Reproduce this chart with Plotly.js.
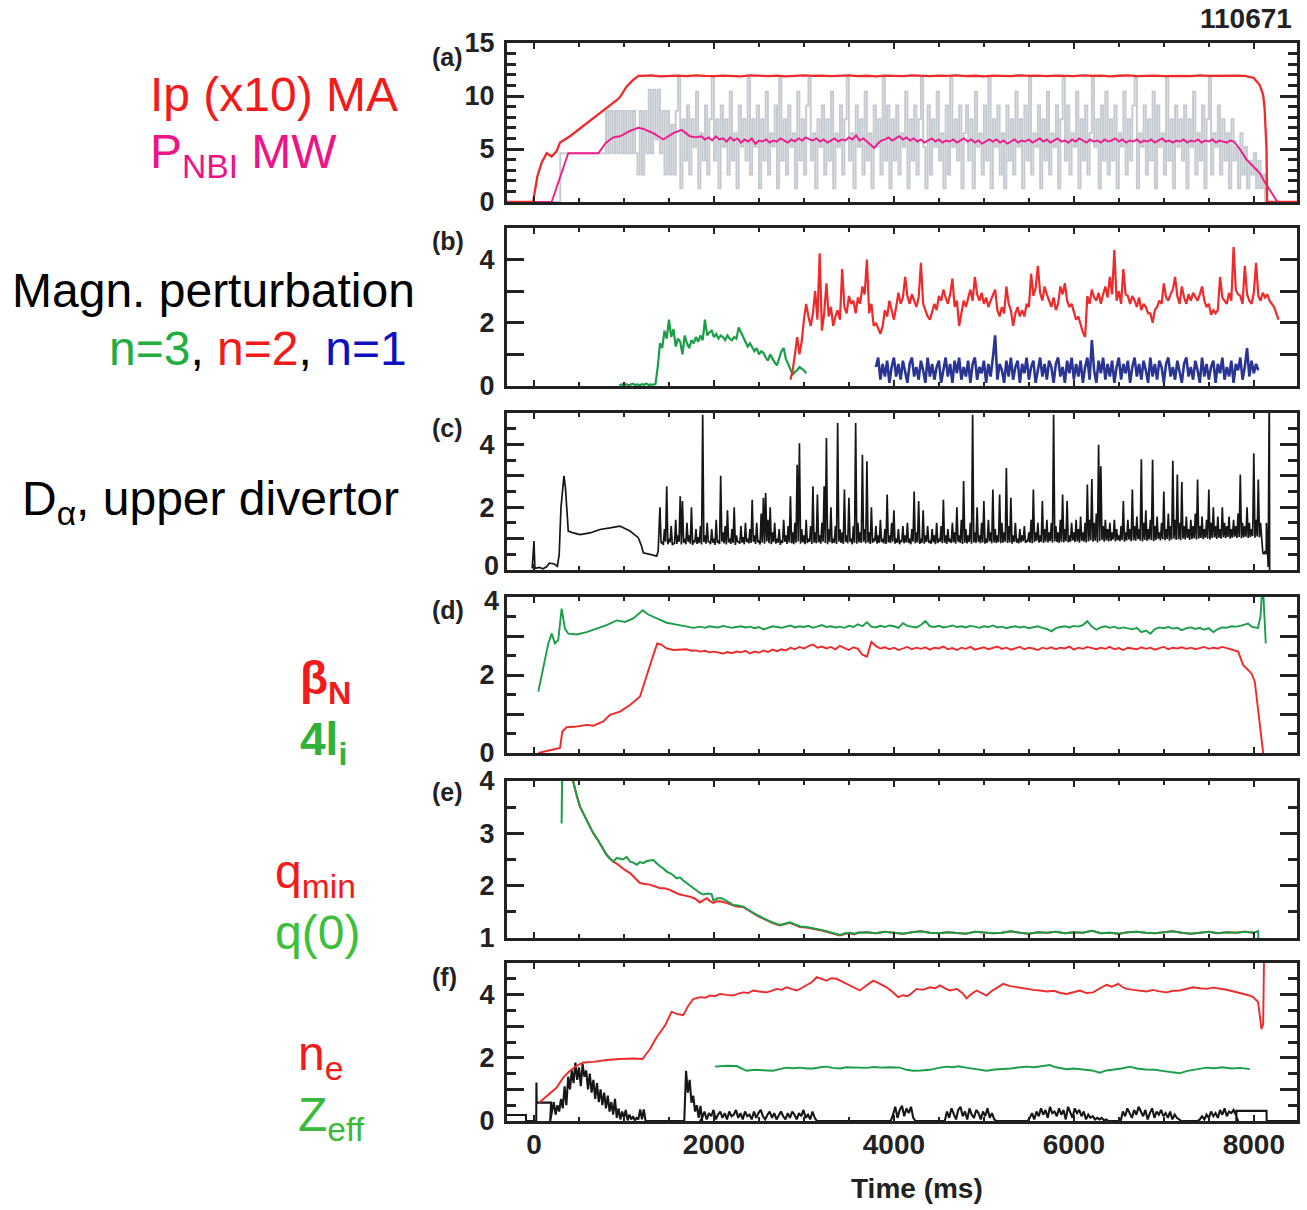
<!DOCTYPE html>
<html><head><meta charset="utf-8">
<script src="https://cdn.plot.ly/plotly-3.0.1.min.js"></script>
<style>html,body{margin:0;padding:0;background:#fff}#chart{width:1307px;height:1210px}</style>
</head><body><div id="chart"></div>
<script>
// ---------------- DATA (time in ms) ----------------
// (a) Ip (x10) MA
const ipT0 = [-300,-10,37,85,141,196,252,289,400,585,770,880,919,956,1030,1100,1159];
const ipV0 = [0,0,2.4,3.7,4.6,4.3,4.8,5.6,6.2,7.4,8.6,9.3,9.6,9.9,10.9,11.5,11.9];
const ipFlatStart = 1200, ipFlatStep = 100;
const ipFlat = [11.9,11.95,11.85,11.9,11.92,11.88,11.95,11.9,11.87,11.93,
11.9,11.86,11.94,11.9,11.88,11.92,11.85,11.9,11.95,11.89,
11.92,11.87,11.9,11.94,11.88,11.91,11.86,11.93,11.9,11.88,
11.95,11.9,11.87,11.92,11.89,11.94,11.88,11.91,11.86,11.93,
11.9,11.88,11.95,11.89,11.92,11.87,11.93,11.9,11.88,11.94,
11.89,11.92,11.86,11.91,11.95,11.88,11.9,11.93,11.87,11.92,
11.9,11.88,11.94,11.89,11.91,11.87,11.92,11.9];
const ipT1 = [7933,8000,8030,8067,8104,8120,8141,8148,8480];
const ipV1 = [11.85,11.7,11.4,11.0,10.1,8.8,5.0,0,0];

// (a) P_NBI MW (averaged)
const pnT0 = [-300,196,381,715,800,881,956,1067,1159,1215,1326,1437,1548,1641,1733,1800,1860];
const pnV0 = [0,0,4.6,4.6,5.6,6.1,6.2,6.7,7.0,6.9,6.5,5.9,6.5,6.8,6.2,6.1,6.2];
const pnStart = 1900, pnStep = 40;
const pnMid = [5.9,6.1,5.8,6.2,5.9,6.0,5.7,6.1,5.8,6.0,
5.6,5.9,5.7,6.0,5.5,5.8,5.7,5.9,5.6,5.8,
5.7,6.0,5.8,5.6,5.9,5.7,6.0,5.8,6.1,5.9,
5.8,6.0,5.7,5.9,5.6,5.8,6.0,5.7,5.9,5.8,
6.1,5.9,6.3,5.8,6.0,5.7,5.4,5.1,5.5,5.8,
5.9,6.1,5.8,6.0,6.2,5.9,6.1,5.8,6.0,5.7,
5.9,5.6,5.8,6.0,5.7,5.9,5.6,5.8,5.7,5.9,
5.6,5.8,6.0,5.7,5.9,5.6,5.8,5.5,5.7,5.9,
5.7,5.9,5.6,5.8,5.5,5.7,5.9,5.6,5.8,5.7,
5.9,5.6,5.8,6.0,5.7,5.9,5.6,5.8,6.0,5.7,
5.8,5.6,5.9,5.7,6.0,5.8,5.6,5.9,5.7,5.8,
5.6,5.9,5.7,5.8,6.0,5.7,5.9,5.6,5.8,5.7,
5.9,5.6,5.8,5.7,5.9,5.6,5.8,6.0,5.7,5.8,
5.6,5.8,5.7,5.9,5.6,5.8,5.7,5.9,5.6,5.8,
5.7,5.9,5.6,5.8,5.7,5.6,5.8];
const pnT1 = [7780,7844,7919,8000,8067,8120,8178,8252,8270,8480];
const pnV1 = [5.7,5.0,4.0,3.3,2.7,1.9,1.1,0.15,0,0];

// (a) raw beam power (grey)
const nbT0 = [-300,290,292,790];
const nbV0 = [0,0,4.6,4.6];
const nbStart = 800, nbStep = 25;
const nbRaw = [8.6,4.6,8.6,4.6,8.6,4.6,8.6,4.6,8.6,4.6,8.6,4.6,8.6,4.6,
2.6,8.6,2.6,8.6,4.6, 10.6,4.6,10.6,5.9,10.6,4.6, 8.6,2.6,8.6,2.6,7.3,2.6,8.6,
11.7,1.3,7.8,3.9,9.1,2.6,7.8,5.2,10.4,1.3,6.5,3.9,9.1,2.6,7.8,11.7,
3.9,7.8,1.3,9.1,5.2,7.8,2.6,10.4,3.9,6.5,1.3,9.1,5.2,7.8,3.9,11.7,
2.6,7.8,5.2,9.1,1.3,7.8,3.9,10.4,2.6,6.5,5.2,9.1,1.3,11.7,3.9,7.8,
2.6,9.1,5.2,6.5,1.3,10.4,3.9,7.8,2.6,9.1,11.7,3.9,6.5,1.3,7.8,5.2,
9.1,2.6,7.8,3.9,10.4,1.3,6.5,5.2,9.1,2.6,7.8,11.7,3.9,6.5,1.3,9.1,
5.2,7.8,2.6,10.4,3.9,6.5,1.3,9.1,5.2,7.8,2.6,11.7,3.9,9.1,1.3,7.8,
3.9,9.1,2.6,6.5,5.2,10.4,1.3,7.8,3.9,9.1,2.6,7.8,11.7,5.2,1.3,9.1,
2.6,7.8,5.2,10.4,3.9,6.5,1.3,9.1,2.6,11.7,5.2,7.8,3.9,9.1,1.3,6.5,
9.1,3.9,7.8,1.3,10.4,5.2,6.5,2.6,9.1,3.9,11.7,1.3,7.8,5.2,9.1,2.6,
6.5,1.3,9.1,3.9,7.8,2.6,10.4,5.2,7.8,1.3,9.1,3.9,11.7,2.6,6.5,5.2,
9.1,1.3,7.8,3.9,10.4,2.6,6.5,5.2,9.1,1.3,7.8,11.7,3.9,9.1,2.6,6.5,
5.2,10.4,1.3,7.8,3.9,9.1,2.6,6.5,11.7,5.2,7.8,1.3,9.1,3.9,10.4,2.6,
7.8,3.9,9.1,1.3,6.5,5.2,10.4,2.6,7.8,3.9,9.1,11.7,1.3,6.5,5.2,9.1,
2.6,7.8,3.9,10.4,1.3,9.1,5.2,6.5,2.6,11.7,3.9,7.8,1.3,9.1,5.2,7.8,
3.9,9.1,1.3,7.8,5.2,10.4,2.6,6.5,3.9,9.1,1.3,7.8,11.7,2.6,6.5,5.2,
9.1,2.6,7.8,3.9,6.5,1.3,7.8,3.9,5.2,1.3,6.5,2.6,5.2,1.3,3.9,2.6,
4.6,1.3,3.9,1.3,2.6,0];

// (b) magnetic perturbation n=3 (green)
const n3Start = 950, n3Step = 25;
const n3 = [0.02,0.05,0.03,0.06,0.02,0.04,0.07,0.03,0.05,0.02,0.06,0.04,0.08,0.03,0.05,0.04,0.06,
0.6,1.35,1.2,1.75,1.5,2.1,1.55,1.8,1.25,1.5,
1.4,1.0,1.6,1.35,1.2,1.45,1.35,1.55,1.4,1.6,
1.45,2.1,1.6,1.7,1.75,1.55,1.65,1.5,1.6,1.55,
1.45,1.6,1.5,1.45,1.55,1.5,1.85,1.7,1.55,1.4,
1.25,1.35,1.2,1.1,1.2,1.0,1.1,1.05,0.9,0.8,
1.0,0.85,0.75,0.65,0.9,1.1,1.2,0.85,0.7,0.55,
0.35,0.45,0.5,0.6,0.55,0.5,0.4];
// (b) n=2 (red)
const n2Start = 2850, n2Step = 25;
const n2 = [0.2,0.5,1.0,1.55,1.0,1.4,2.1,2.6,2.2,1.9,
2.3,3.0,2.1,4.2,1.75,2.3,3.25,2.2,2.5,1.9,
2.2,2.4,2.1,3.7,2.5,2.3,2.85,2.6,2.7,2.3,
2.8,2.6,3.15,2.9,4.0,2.3,2.6,1.9,2.0,1.8,
1.65,1.9,2.4,2.2,2.7,2.4,2.1,2.5,2.95,2.6,
2.8,3.45,2.85,2.6,2.9,2.7,2.5,2.8,3.9,2.6,
2.4,2.2,2.1,2.35,2.6,2.4,2.85,2.7,3.05,2.8,
2.6,2.9,3.4,2.5,2.7,1.9,2.3,2.7,2.5,2.8,
3.05,2.7,3.45,2.9,2.7,2.95,2.6,2.8,2.5,2.7,
2.9,3.05,2.4,2.2,2.5,2.3,3.15,2.6,2.4,1.9,
2.3,2.5,2.2,2.4,2.2,2.6,2.5,3.55,2.85,3.1,
3.8,2.95,2.7,3.15,2.9,2.7,2.5,2.8,2.4,2.6,
3.15,2.9,3.25,2.7,2.5,2.6,2.3,2.1,2.2,1.9,
1.7,1.55,2.85,2.6,3.05,2.8,2.7,2.95,2.6,2.9,
3.15,2.8,3.45,2.9,4.3,2.7,3.0,2.6,3.7,2.9,
2.85,2.6,2.85,2.7,2.5,2.8,2.4,2.6,2.5,2.3,
2.3,2.0,2.4,2.5,2.7,2.6,3.25,2.8,2.7,2.9,
3.05,3.45,2.85,2.6,3.15,2.8,2.6,2.9,2.7,2.95,
2.8,2.7,2.9,3.15,2.7,2.5,2.6,2.25,2.4,2.3,
2.4,3.45,2.8,2.7,2.6,2.95,2.7,4.4,3.05,2.9,
2.85,2.6,3.8,2.9,2.7,2.6,2.95,3.9,2.85,2.7,
2.95,2.8,2.9,2.7,2.6,2.5,2.3,2.1];
// (b) n=1 (blue)
const n1Start = 3800, n1Step = 25;
const n1 = [0.6,0.9,0.2,0.7,0.3,0.8,0.1,0.6,0.9,0.3,
0.7,0.2,0.8,0.4,0.1,0.7,0.9,0.3,0.6,0.2,
0.8,0.5,0.1,0.9,0.3,0.7,0.2,0.6,0.8,0.1,
0.5,0.9,0.3,0.7,0.1,0.8,0.4,0.9,0.2,0.6,
0.3,0.8,0.1,0.7,0.9,0.2,0.6,0.4,0.8,0.1,
0.7,0.3,0.9,1.6,0.2,0.7,0.5,0.1,0.8,0.3,
0.9,0.2,0.6,0.8,0.1,0.7,0.4,0.9,0.2,0.6,
0.8,0.1,0.5,0.9,0.3,0.7,0.2,0.8,0.6,0.1,
0.7,0.9,0.3,0.6,0.1,0.8,0.4,0.9,0.2,0.7,
0.3,0.8,0.1,0.6,0.9,0.2,1.45,0.5,0.1,0.8,
0.4,0.9,0.2,0.7,0.3,0.8,0.1,0.6,0.9,0.2,
0.7,0.4,0.8,0.1,0.6,0.9,0.3,0.7,0.2,0.8,
0.5,0.1,0.9,0.3,0.7,0.2,0.8,0.6,0.1,0.7,
0.9,0.3,0.6,0.2,0.8,0.4,0.1,0.7,0.9,0.3,
0.6,0.2,0.8,0.5,0.1,0.9,0.3,0.7,0.2,0.6,
0.8,0.1,0.7,0.4,0.9,0.2,0.6,0.3,0.8,0.1,
0.7,0.5,0.9,0.2,0.6,1.2,0.3,0.8,0.4,0.7,
0.5];

// (c) D-alpha upper divertor
const daT0 = [-20,0,10,60,100,140,170,220,260,280,300,333,350,365,381,437,511,622,733,844,900,956,1010,1067,1120,1159,1196,1215,1289,1340,1363,1380];
const daV0 = [0.05,0.92,0.05,0.08,0.04,0.1,0.22,0.2,0.12,0.5,2.0,3.0,2.6,1.8,1.24,1.18,1.13,1.18,1.29,1.34,1.37,1.4,1.32,1.24,1.12,1.03,0.76,0.55,0.5,0.45,0.44,0.6];
const daStart = 1400, daStep = 25;
// upper excursions (peaks) in each 25 ms bin
const daMid = [2.0,0.9,1.3,2.67,1.0,1.4,0.85,1.6,1.1,2.35,
2.2,1.0,1.5,1.1,2.0,0.95,1.3,1.05,1.4,4.94,
1.1,1.5,0.9,1.3,1.0,1.6,0.95,3.0,1.2,1.4,
1.9,1.0,1.3,2.0,1.1,0.9,1.4,1.05,1.5,1.0,
1.3,2.24,1.1,1.5,0.95,1.8,2.3,2.45,1.6,2.0,
1.2,1.5,1.0,1.3,0.95,1.6,1.1,1.4,2.35,1.2,
1.5,3.35,4.04,1.3,1.1,1.6,1.0,1.4,2.67,1.2,
2.4,1.1,1.5,2.67,4.2,1.3,2.0,1.0,1.4,4.68,
1.3,1.2,2.56,1.1,2.3,1.0,1.4,4.68,1.5,1.2,
3.67,1.3,3.46,1.2,2.0,1.0,1.4,1.1,1.6,1.0,
1.3,2.4,1.1,1.5,1.9,1.0,1.3,0.95,1.4,1.1,
1.5,1.0,1.3,2.5,1.2,2.2,1.0,1.9,1.1,1.4,
0.95,1.3,1.1,1.5,1.0,1.4,2.24,1.1,1.3,1.0,
1.5,1.2,2.0,1.1,1.6,2.83,1.3,1.1,1.5,4.94,
1.2,2.0,1.1,1.5,2.2,1.0,1.6,1.2,2.56,1.3,
1.1,2.4,1.5,1.2,3.25,1.4,2.3,1.1,1.5,1.0,
1.3,1.1,1.4,0.95,1.2,1.6,2.56,1.2,1.5,1.1,
2.2,1.3,1.6,1.2,1.5,4.94,1.4,1.2,1.6,2.4,
1.3,2.2,1.1,1.5,1.2,1.6,1.3,1.7,1.2,1.5,
2.72,1.6,2.9,1.5,1.8,3.99,3.3,1.4,1.6,1.3,
1.5,1.2,1.6,1.3,1.1,1.4,2.2,1.2,1.6,1.3,
2.56,1.4,1.7,1.3,3.53,1.5,1.9,1.3,1.6,3.51,
1.4,1.7,1.2,1.5,2.5,1.3,1.8,1.4,3.48,1.6,
3.04,1.5,2.8,1.4,1.7,1.3,1.6,1.4,1.8,2.88,
1.4,1.7,1.3,1.6,2.56,1.5,2.0,1.4,1.7,1.3,
2.0,1.5,1.4,1.7,1.3,1.6,1.4,1.8,3.04,1.5,
1.4,2.0,1.5,1.3,3.72,1.6,2.88,1.5,0.55,0.6];
// lower excursions (troughs), half a bin later
const daLow = [0.85,0.8,0.9,0.82,0.88,0.8,0.86,0.83,0.9,0.81,
0.87,0.82,0.9,0.84,0.8,0.88,0.83,0.86,0.81,0.89,
0.84,0.9,0.82,0.87,0.8,0.86,0.83,0.9,0.85,0.81,
0.88,0.83,0.86,0.8,0.9,0.84,0.87,0.82,0.89,0.85,
0.86,0.9,0.83,0.88,0.81,0.87,0.84,0.91,0.85,0.82,
0.89,0.84,0.87,0.8,0.86,0.9,0.83,0.88,0.85,0.82,
0.87,0.91,0.84,0.88,0.82,0.86,0.9,0.83,0.87,0.85,
0.88,0.84,0.9,0.86,0.82,0.89,0.85,0.87,0.83,0.9,
0.86,0.83,0.89,0.85,0.9,0.82,0.87,0.84,0.88,0.86,
0.9,0.85,0.88,0.83,0.87,0.91,0.84,0.86,0.89,0.85,
0.83,0.88,0.86,0.9,0.84,0.87,0.82,0.89,0.85,0.88,
0.86,0.82,0.9,0.85,0.88,0.83,0.87,0.84,0.9,0.86,
0.84,0.88,0.82,0.86,0.9,0.85,0.87,0.83,0.89,0.86,
0.88,0.84,0.9,0.86,0.83,0.87,0.85,0.89,0.84,0.88,
0.86,0.9,0.85,0.88,0.84,0.87,0.91,0.85,0.88,0.86,
0.89,0.85,0.87,0.9,0.86,0.88,0.84,0.9,0.87,0.85,
0.88,0.92,0.86,0.9,0.87,0.85,0.89,0.93,0.87,0.9,
0.86,0.9,0.88,0.92,0.87,0.91,0.89,0.86,0.9,0.88,
0.92,0.88,0.9,0.94,0.89,0.91,0.87,0.93,0.9,0.88,
0.91,0.95,0.9,0.93,0.88,0.92,0.96,0.9,0.94,0.91,
0.93,0.97,0.91,0.95,0.92,0.96,0.9,0.94,0.97,0.92,
0.95,0.93,0.98,0.94,0.91,0.96,0.93,0.97,0.95,0.92,
0.96,1.0,0.94,0.98,0.95,0.99,0.93,0.97,1.0,0.96,
0.98,0.95,1.0,0.97,1.02,0.96,0.99,1.01,0.97,1.0,
1.02,0.98,1.03,1.0,0.97,1.02,1.04,0.99,1.03,1.0,
1.04,1.01,1.05,1.0,1.03,1.06,1.02,1.05,1.01,1.04,
1.06,1.02,1.05,1.08,1.03,1.07,1.04,1.0,0.5,0.5];
const daT1 = [8140,8160,8168,8172,8176];
const daV1 = [1.5,0.1,6,6,0];

// (d) beta_N (red) and 4 l_i (green)
const bnT0 = [48,141,215,289,315,363,474,585,660,770,844,956,1067,1178,1252,1326,1370,1415,1474,1548,1696,1750];
const bnV0 = [0,0.04,0.09,0.13,0.55,0.66,0.68,0.72,0.7,0.81,0.98,1.06,1.23,1.45,2.0,2.51,2.81,2.78,2.68,2.64,2.66,2.62];
const flatStart = 1800, flatStep = 50;
const bnMid = [2.63,2.6,2.62,2.58,2.6,2.57,2.55,2.59,2.56,2.6,
2.58,2.62,2.55,2.6,2.57,2.63,2.59,2.65,2.61,2.66,
2.63,2.7,2.66,2.72,2.68,2.74,2.78,2.7,2.73,2.68,
2.72,2.66,2.75,2.69,2.64,2.71,2.67,2.52,2.47,2.85,
2.74,2.68,2.71,2.66,2.7,2.64,2.69,2.72,2.66,2.7,
2.67,2.71,2.65,2.7,2.68,2.73,2.66,2.69,2.64,2.7,
2.67,2.72,2.65,2.69,2.71,2.66,2.7,2.73,2.67,2.7,
2.65,2.69,2.72,2.66,2.7,2.68,2.64,2.7,2.67,2.71,
2.66,2.7,2.68,2.73,2.65,2.7,2.67,2.72,2.69,2.66,
2.7,2.67,2.72,2.66,2.69,2.64,2.7,2.68,2.66,2.71,
2.67,2.7,2.65,2.69,2.72,2.66,2.7,2.68,2.71,2.67,
2.7,2.66,2.69,2.72,2.67,2.7,2.68,2.72,2.69,2.66];
const bnT1 = [7826,7881,7974,8011,8048,8104];
const bnV1 = [2.6,2.26,2.04,1.83,1.06,0];

const liT0 = [48,159,196,233,270,307,344,381,474,585,696,807,919,1011,1104,1207,1270,1363,1474,1585,1700,1770];
const liV0 = [1.57,2.81,3.06,2.81,2.9,3.7,3.19,3.06,3.04,3.1,3.19,3.28,3.4,3.36,3.45,3.66,3.55,3.45,3.34,3.29,3.25,3.21];
const liMid = [3.22,3.24,3.21,3.25,3.23,3.22,3.26,3.24,3.21,3.23,
3.25,3.22,3.24,3.2,3.23,3.17,3.22,3.25,3.23,3.21,
3.24,3.27,3.22,3.25,3.23,3.26,3.21,3.24,3.28,3.23,
3.25,3.22,3.24,3.21,3.26,3.23,3.3,3.25,3.35,3.24,
3.22,3.26,3.23,3.27,3.25,3.21,3.33,3.26,3.24,3.22,
3.28,3.38,3.25,3.23,3.26,3.22,3.24,3.27,3.23,3.25,
3.22,3.26,3.24,3.21,3.25,3.23,3.27,3.22,3.24,3.2,
3.23,3.25,3.22,3.24,3.2,3.23,3.25,3.21,3.18,3.12,
3.2,3.23,3.25,3.22,3.26,3.24,3.28,3.38,3.24,3.16,
3.22,3.25,3.21,3.24,3.19,3.22,3.2,3.17,3.21,3.1,
3.14,3.06,3.18,3.22,3.2,3.23,3.19,3.21,3.15,3.2,
3.22,3.18,3.21,3.16,3.2,3.1,3.18,3.22,3.21,3.25];
const liT1 = [7800,7850,7937,7975,8044,8075,8090,8105,8133];
const liV1 = [3.24,3.26,3.32,3.24,3.2,3.5,4.1,4.1,2.81];

// (e) q(0) (green) and q_min (red)
const q0T = [307,315,419,440,474,511,548,585,622,659,700,733,770,807,844,881,920,956,990,1030,1067,1104,1141,1178,1215,1252,1289,1326,1363,1400,1437,1474,1511,1548,1585,1622,1659,1696,1733,1770,1807,1844,1881,1930,1974,1993,2040,2085,2150,2215,2270,2326,2380,2437,2490,2548,2600,2659,2733,2790,2844,2900,2956,3030,3104,3180,3252,3330,3400,3460,3511,3560];
const q0V = [3.19,4.5,4.1,3.95,3.73,3.51,3.38,3.25,3.13,3.0,2.9,2.81,2.7,2.59,2.52,2.46,2.53,2.52,2.5,2.55,2.46,2.44,2.4,2.45,2.43,2.47,2.48,2.49,2.43,2.37,2.33,2.27,2.24,2.2,2.14,2.16,2.1,2.05,2.0,1.95,1.9,1.86,1.83,1.85,1.84,1.72,1.76,1.76,1.7,1.63,1.62,1.6,1.54,1.48,1.43,1.38,1.34,1.29,1.25,1.27,1.3,1.26,1.22,1.21,1.19,1.16,1.13,1.1,1.06,1.09,1.1,1.08];
const qFlatStart = 3600, qFlatStep = 100;
const qFlat = [1.1,1.11,1.09,1.12,1.1,1.08,1.11,1.13,1.1,1.09,
1.11,1.1,1.08,1.12,1.11,1.09,1.1,1.13,1.1,1.08,
1.11,1.1,1.12,1.09,1.11,1.1,1.14,1.09,1.1,1.08,
1.11,1.12,1.1,1.09,1.11,1.13,1.1,1.08,1.1,1.12,
1.09,1.11,1.1,1.12,1.1];
const q0T1 = [8048,8050];
const q0V1 = [1.13,1.0];
const qmT = [419,440,474,511,548,585,622,659,700,733,770,807,844,881,920,956,1010,1067,1120,1178,1230,1289,1340,1400,1450,1511,1570,1622,1680,1733,1790,1844,1880,1919,1960,1993,2030,2067,2120,2180,2252,2326,2380,2437,2490,2548,2600,2659,2733,2790,2844,2900,2956,3030,3104,3180,3252,3330,3400,3460,3511,3560];
const qmV = [4.1,3.95,3.73,3.51,3.38,3.25,3.13,3.0,2.9,2.81,2.7,2.59,2.52,2.46,2.42,2.37,2.3,2.24,2.15,2.05,2.03,2.02,1.99,1.95,1.95,1.92,1.87,1.83,1.81,1.79,1.75,1.68,1.72,1.76,1.7,1.67,1.7,1.7,1.68,1.65,1.6,1.59,1.53,1.47,1.42,1.37,1.33,1.28,1.24,1.26,1.29,1.25,1.21,1.2,1.18,1.15,1.12,1.09,1.05,1.08,1.09,1.07];

// (f) n_e (red), Z_eff (green), black trace
const neT = [56,100,178,252,326,400,474,548,659,807,956,1104,1207,1289,1363,1456,1530,1585,1659,1715,1770,1844,1900,1956,2010,2067,2140,2215,2270,2326,2380,2437,2500,2585,2640,2696,2750,2807,2860,2919,2970,3030,3090,3141,3200,3252,3300,3363,3420,3474,3530,3585,3622,3700,3770,3840,3919,3980,4048,4100,4150,4200,4252,4320,4400,4460,4511,4570,4622,4700,4760,4807,4860,4919,4970,5030,5080,5130,5215,5290,5363,5420,5474,5550,5622,5700,5780,5850,5919,5990,6067,6140,6215,6290,6363,6420,6493,6540,6585,6660,6733,6810,6880,6950,7030,7100,7178,7250,7326,7400,7474,7550,7622,7680,7733,7810,7881,7940,7993,8048,8067,8085,8104,8115];
const neV = [0.58,0.69,0.9,1.06,1.38,1.59,1.75,1.85,1.87,1.93,1.96,1.98,1.96,2.28,2.65,3.02,3.46,3.39,3.35,3.65,3.86,3.92,3.9,3.97,3.95,4.02,3.99,3.97,4.03,4.07,4.05,4.13,4.1,4.07,4.12,4.18,4.15,4.23,4.18,4.13,4.2,4.29,4.4,4.55,4.48,4.44,4.52,4.5,4.42,4.34,4.25,4.18,4.13,4.3,4.44,4.35,4.23,4.1,3.92,3.98,3.95,4.05,4.18,4.15,4.23,4.2,4.29,4.2,4.13,4.18,4.05,3.88,4.02,4.13,4.05,3.97,4.1,4.18,4.34,4.27,4.23,4.2,4.18,4.15,4.13,4.1,4.12,4.05,4.02,4.08,4.13,4.05,4.07,4.2,4.31,4.25,4.34,4.24,4.18,4.15,4.13,4.1,4.15,4.1,4.07,4.12,4.13,4.18,4.23,4.2,4.18,4.22,4.2,4.16,4.13,4.08,4.02,3.98,3.92,3.76,3.33,2.91,3.07,5.5];
const zeT = [2011,2080,2141,2250,2320,2363,2450,2550,2659,2730,2807,2880,2956,3030,3104,3180,3252,3320,3400,3470,3548,3620,3700,3780,3860,3940,4067,4140,4215,4300,4400,4500,4585,4650,4720,4800,4880,4960,5030,5120,5200,5300,5400,5474,5560,5650,5733,5800,5919,6000,6100,6200,6289,6360,6450,6530,6622,6700,6800,6900,7000,7100,7178,7250,7330,7400,7474,7560,7650,7750,7850,7956];
const zeV = [1.72,1.74,1.75,1.74,1.65,1.59,1.62,1.6,1.59,1.64,1.69,1.67,1.69,1.66,1.66,1.7,1.72,1.68,1.66,1.7,1.69,1.7,1.68,1.71,1.69,1.7,1.69,1.62,1.59,1.6,1.62,1.68,1.72,1.7,1.73,1.69,1.66,1.62,1.59,1.63,1.64,1.66,1.7,1.72,1.7,1.74,1.77,1.7,1.64,1.66,1.64,1.6,1.53,1.6,1.63,1.66,1.72,1.66,1.63,1.62,1.58,1.55,1.51,1.58,1.62,1.65,1.69,1.67,1.7,1.66,1.68,1.64];
// black trace: explicit pieces and sampled bursts [start, step, values]
const bkT0 = [-300,-90,-88,25,27,30,190];
const bkV0 = [0.19,0.19,0,0,1.22,0.58,0.58];
const bkBursts = [
 [200,20,[0.3,0.6,0.2,0.5,0.3,0.7,0.4,1.1,0.5,1.4,1.0,1.6,1.2,1.85,1.3,1.7,1.1,1.8,1.4,1.6,1.0,1.5,0.9,1.3,0.7,1.2,0.6,1.0,0.5,0.9,0.4,0.8,0.3,0.6,0.2,0.7,0.1,0.4,0.05,0.3,0.1,0.35,0.02,0.2,0.05,0.15,0.02,0.1,0.05,0.37,0.05,0.37,0.0]],
 [1690,20,[1.59,0.9,1.3,0.58,0.8,0.3,0.5,0.1,0.48]],
 [1870,25,[0.1,0.3,0.05,0.25,0.15,0.35,0.05,0.2,0.3,0.1,0.25,0.05,0.3,0.15,0.2,0.35,0.1,0.25,0.05,0.3,0.15,0.2,0.05,0.3,0.1,0.25,0.35,0.15,0.05,0.2,0.3,0.1,0.25,0.05,0.2,0.3,0.15,0.05,0.25,0.1,0.3,0.2,0.05,0.25,0.15,0.35,0.1,0.2,0.05,0.3,0.1,0.0]],
 [3990,25,[0.2,0.45,0.1,0.35,0.48,0.15,0.4,0.25,0.45,0.1]],
 [4590,25,[0.3,0.1,0.4,0.2,0.05,0.35,0.45,0.15,0.3,0.05,0.4,0.2,0.1,0.35,0.25,0.05,0.3,0.15,0.4,0.1,0.25,0.05]],
 [5510,25,[0.1,0.25,0.05,0.3,0.15,0.4,0.2,0.35,0.1,0.45,0.25,0.3,0.15,0.4,0.2,0.35,0.05,0.45,0.3,0.1,0.4,0.25,0.35,0.15,0.3,0.05,0.2,0.1,0.15,0.05,0.1,0.05,0.1,0.02,0.05,0.0]],
 [6545,25,[0.3,0.15,0.4,0.25,0.1,0.35,0.2,0.45,0.3,0.15,0.35,0.05,0.25,0.4,0.1,0.3,0.2,0.35,0.15,0.25,0.1,0.3,0.05,0.2,0.1,0.05,0.0]],
 [7400,25,[0.05,0.15,0.05,0.2,0.1,0.3,0.15,0.25,0.1,0.35,0.2,0.4,0.15,0.3,0.25,0.35,0.2]]
];
const bkT1 = [7805,7807,8141,8143,8480];
const bkV1 = [0,0.32,0.32,0,0];

// ---------------- helpers ----------------
function sampled(t0, dt, vals){ return vals.map((_, i) => t0 + dt*i); }
function join(parts){ const x=[],y=[]; parts.forEach(p=>{x.push(...p[0]);y.push(...p[1]);}); return [x,y]; }

const ip = join([[ipT0,ipV0],[sampled(ipFlatStart,ipFlatStep,ipFlat),ipFlat],[ipT1,ipV1]]);
const pn = join([[pnT0,pnV0],[sampled(pnStart,pnStep,pnMid),pnMid],[pnT1,pnV1]]);
const nb = join([[nbT0,nbV0],[sampled(nbStart,nbStep,nbRaw),nbRaw],[[8480],[0]]]);
const daHL = [[],[]];
daMid.forEach((v,i)=>{ const t = daStart + daStep*i; daHL[0].push(t, t + daStep/2); daHL[1].push(v, daLow[i]); });
const da = join([[daT0,daV0],daHL,[daT1,daV1]]);
const bn = join([[bnT0,bnV0],[sampled(flatStart,flatStep,bnMid),bnMid],[bnT1,bnV1]]);
const li = join([[liT0,liV0],[sampled(flatStart,flatStep,liMid),liMid],[liT1,liV1]]);
const q0 = join([[q0T,q0V],[sampled(qFlatStart,qFlatStep,qFlat),qFlat],[q0T1,q0V1]]);
const qm = join([[qmT,qmV],[sampled(qFlatStart,qFlatStep,qFlat),qFlat]]);
const bkParts = [[bkT0,bkV0]];
bkBursts.forEach(b => { const t = sampled(b[0], b[1], b[2]); bkParts.push([[b[0]-b[1]], [0]]); bkParts.push([t, b[2]]); bkParts.push([[t[t.length-1]+b[1]], [0]]); });
bkParts.push([bkT1,bkV1]);
const bk = join(bkParts);

// ---------------- colours / fonts ----------------
const RED = '#ee2a2a', MAG = '#ec1c8c', GRAY = '#c5c9d0', GRN = '#1a9e48', BLU = '#2a3593', BLK = '#161616';
const NUMFONT = 'Liberation Sans, Arial, Helvetica, sans-serif';
const TXTFONT = 'Liberation Sans, Arial, Helvetica, sans-serif';
const AX = '#222';

function tr(xy, axis, color, width, shape){
  return {x: xy[0], y: xy[1], xaxis: 'x'+(axis===1?'':axis), yaxis: 'y'+(axis===1?'':axis), type:'scatter', mode:'lines',
    line:{color, width, shape: shape||'linear'}, hoverinfo:'skip'};
}
const data = [
  tr(nb,1,GRAY,1.9,'hv'), tr(pn,1,MAG,1.9), tr(ip,1,RED,2.3),
  tr([sampled(n3Start,n3Step,n3),n3],2,GRN,2.2), tr([sampled(n2Start,n2Step,n2),n2],2,RED,2.2), tr([sampled(n1Start,n1Step,n1),n1],2,BLU,2.6),
  tr(da,3,BLK,1.7),
  tr(bn,4,RED,1.9), tr(li,4,GRN,1.9),
  tr(qm,5,RED,2), tr(q0,5,GRN,2),
  tr(bk,6,BLK,2.1), tr([neT,neV],6,RED,1.9), tr([zeT,zeV],6,GRN,1.9)
];

const XD = [507/1307, 1297/1307];
const doms = [[43,202],[228,386],[413,570],[597,753],[781,938],[963,1121]].map(d => [1-d[1]/1210, 1-d[0]/1210]);
const yr = [[0,15],[0,5],[0,5],[0,4],[1,4],[0,5]];
const ytv = [[0,5,10,15],[0,1,2,3,4],[0,1,2,3,4],[0,1,2,3,4],[1,2,3,4],[0,1,2,3,4]];
// labels at the panel edges of (c) bottom and (d) top are set as separate texts below (they sit slightly inside, as in the reference)
const ytt = [['0','5','10','15'],['0','','2','','4'],['','','2','','4'],['0','','2','',''],['1','2','3','4'],['0','','2','','4']];
const ymin = [1,null,0.5,0.5,0.5,0.5];

const layout = {width:1307, height:1210, margin:{l:0,r:0,t:0,b:0}, paper_bgcolor:'#fff', plot_bgcolor:'#fff', showlegend:false, annotations:[]};
for (let i=0;i<6;i++){
  const k = i===0?'':(i+1);
  layout['xaxis'+k] = {domain:XD, range:[-300,8480], anchor:'y'+k, showline:true, linewidth:3, linecolor:AX, mirror:'allticks',
    ticks:'inside', tick0:0, dtick:2000, ticklen:6, tickwidth:2, tickcolor:AX, showgrid:false, zeroline:false,
    minor:{ticks:'inside', tick0:0, dtick:500, ticklen:4, tickwidth:2, tickcolor:AX, showgrid:false},
    showticklabels: i===5, tickfont:{family:NUMFONT, size:28, color:AX, weight:'bold'}, ticklabelstandoff:-4, fixedrange:true};
  const ya = {domain:doms[i], range:yr[i], anchor:'x'+k, showline:true, linewidth:3, linecolor:AX, mirror:'allticks',
    tickmode:'array', tickvals:ytv[i], ticktext:ytt[i], ticks:'inside', ticklen:17, tickwidth:3, tickcolor:AX,
    showgrid:false, zeroline:false, tickfont:{family:NUMFONT, size:27, color:AX, weight:'bold'}, ticklabelstandoff:4, fixedrange:true};
  if (ymin[i]) ya.minor = {ticks:'inside', tickmode:'linear', tick0:0, dtick:ymin[i], ticklen:9, tickwidth:3, tickcolor:AX, showgrid:false};
  layout['yaxis'+k] = ya;
}
function ann(text, xpx, ypx, opts){
  return Object.assign({text, x:xpx/1307, y:1-ypx/1210, xref:'paper', yref:'paper', showarrow:false, xanchor:'left', yanchor:'middle',
    font:{family:TXTFONT, size:48, color:'#000'}}, opts||{});
}
const NUMF = {family:NUMFONT, size:27, color:AX, weight:'bold'};
layout.annotations.push(ann('0',501,566,{xanchor:'right',font:NUMF}));
layout.annotations.push(ann('4',501,601,{xanchor:'right',font:NUMF}));
const panelLab = ['(a)','(b)','(c)','(d)','(e)','(f)'];
const panelY = [57,241,428,610,792,977];
panelLab.forEach((t,i)=> layout.annotations.push(ann(t,430,panelY[i],{font:{family:NUMFONT,size:25,color:AX,weight:'bold'}})));
layout.annotations.push(ann('110671',1294,19,{xanchor:'right',font:{family:NUMFONT,size:28,color:AX,weight:'bold'}}));
layout.annotations.push(ann('Time (ms)',917,1188,{xanchor:'center',font:{family:NUMFONT,size:28,color:AX,weight:'bold'}}));
layout.annotations.push(ann('Ip (x10) MA',148,95,{font:{family:TXTFONT,size:48,color:'#f21a1a'}}));
layout.annotations.push(ann('P<sub>NBI</sub> MW',148,155,{font:{family:TXTFONT,size:48,color:'#ee1487'}}));
layout.annotations.push(ann('Magn. perturbation',10,290,{font:{family:TXTFONT,size:48,color:'#000'}}));
layout.annotations.push(ann('<span style="color:#1fae3f">n=3</span>, <span style="color:#f21a1a">n=2</span>, <span style="color:#1010c0">n=1</span>',409,349,{xanchor:'right',font:{family:TXTFONT,size:48,color:'#000'}}));
layout.annotations.push(ann('D<sub>α</sub>, upper divertor',20,502,{font:{family:TXTFONT,size:48,color:'#000'}}));
layout.annotations.push(ann('β<sub>N</sub>',298,681,{font:{family:TXTFONT,size:46,color:'#f21a1a',weight:'bold'}}));
layout.annotations.push(ann('4l<sub>i</sub>',298,742,{font:{family:TXTFONT,size:46,color:'#2fb13a',weight:'bold'}}));
layout.annotations.push(ann('q<sub>min</sub>',273,875,{font:{family:TXTFONT,size:48,color:'#f21a1a'}}));
layout.annotations.push(ann('q(0)',273,932,{font:{family:TXTFONT,size:48,color:'#3cc03c'}}));
layout.annotations.push(ann('n<sub>e</sub>',296,1057,{font:{family:TXTFONT,size:48,color:'#f21a1a'}}));
layout.annotations.push(ann('Z<sub>eff</sub>',296,1118,{font:{family:TXTFONT,size:48,color:'#3cb83c'}}));

Plotly.newPlot('chart', data, layout, {staticPlot:true, displayModeBar:false});
</script></body></html>
